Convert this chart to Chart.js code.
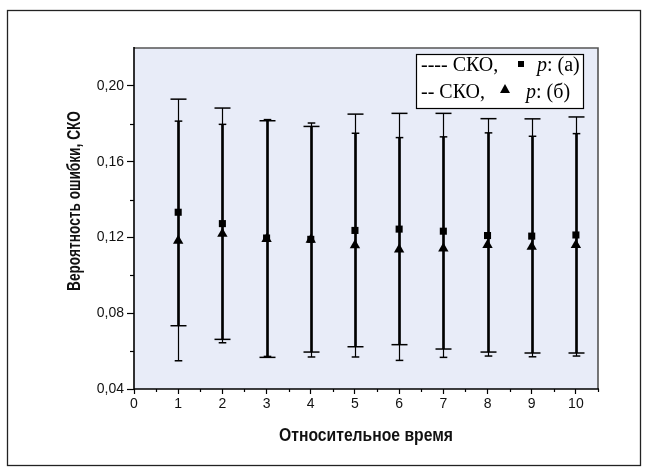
<!DOCTYPE html>
<html>
<head>
<meta charset="utf-8">
<script src="https://cdn.jsdelivr.net/npm/chart.js@4/dist/chart.umd.min.js"></script>
<style>
  html, body { margin: 0; padding: 0; background: #fff; }
  #wrap { width: 648px; height: 472px; }
</style>
</head>
<body>
<div id="wrap"><canvas id="c" width="648" height="472"></canvas></div>
<script>
// values
const times = [1, 2, 3, 4, 5, 6, 7, 8, 9, 10];
const pA    = [0.1333, 0.1273, 0.1197, 0.1190, 0.1237, 0.1244, 0.1233, 0.1210, 0.1207, 0.1213];
const lowA  = [0.0734, 0.0662, 0.0567, 0.0595, 0.0623, 0.0634, 0.0611, 0.0595, 0.0590, 0.0590];
const highA = [0.1930, 0.1883, 0.1816, 0.1786, 0.1851, 0.1855, 0.1855, 0.1827, 0.1826, 0.1836];
const pB    = [0.1182, 0.1220, 0.1192, 0.1188, 0.1159, 0.1137, 0.1142, 0.1160, 0.1151, 0.1160];
const lowB  = [0.0549, 0.0644, 0.0572, 0.0569, 0.0569, 0.0551, 0.0567, 0.0574, 0.0570, 0.0574];
const highB = [0.1814, 0.1797, 0.1822, 0.1804, 0.1750, 0.1727, 0.1731, 0.1752, 0.1734, 0.1748];

const xTicks = [0, 1, 2, 3, 4, 5, 6, 7, 8, 9, 10];
const xTickLabels = ['0', '1', '2', '3', '4', '5', '6', '7', '8', '9', '10'];
const xMinor = [0.5, 1.5, 2.5, 3.5, 4.5, 5.5, 6.5, 7.5, 8.5, 9.5, 10.5];
const yTicks = [0.04, 0.08, 0.12, 0.16, 0.20];
const yTickLabels = ['0,04', '0,08', '0,12', '0,16', '0,20'];
const yMinor = [0.06, 0.10, 0.14, 0.18];

const xTitle = 'Относительное время';
const yTitle = 'Вероятность ошибки, СКО';

const sansBold = '"Liberation Sans Narrow", "Liberation Sans", Arial, sans-serif';
const serif = '"Liberation Serif", "Times New Roman", serif';

function fitText(ctx, text, x, y, width, rot) {
  ctx.save();
  ctx.translate(x, y);
  ctx.rotate(rot);
  const w = ctx.measureText(text).width;
  ctx.scale(width / w, 1);
  ctx.fillText(text, 0, 0);
  ctx.restore();
}

const decor = {
  id: 'decor',
  beforeDraw(chart) {
    const { ctx, chartArea: a } = chart;
    ctx.save();
    ctx.fillStyle = '#e8ecf8';
    ctx.fillRect(a.left, a.top, a.right - a.left, a.bottom - a.top);
    ctx.strokeStyle = '#222';
    ctx.lineWidth = 1.3;
    ctx.strokeRect(7.5, 10.5, 633, 455);
    ctx.restore();
  },
  beforeDatasetsDraw(chart) {
    const { ctx, scales: { x, y } } = chart;
    ctx.save();
    ctx.strokeStyle = '#000';
    times.forEach((t, i) => {
      const px = Math.round(x.getPixelForValue(t)) + 0.5;
      const bars = [[lowA[i], highA[i], 8], [lowB[i], highB[i], 3.8]];
      ctx.lineWidth = 1.2;
      bars.forEach(([lo, hi]) => {
        ctx.beginPath();
        ctx.moveTo(px, y.getPixelForValue(lo));
        ctx.lineTo(px, y.getPixelForValue(hi));
        ctx.stroke();
      });
      // overlapping part of both bars looks heavier
      const oLo = Math.max(lowA[i], lowB[i]);
      const oHi = Math.min(highA[i], highB[i]);
      ctx.lineWidth = 2.6;
      ctx.beginPath();
      ctx.moveTo(px, y.getPixelForValue(oLo));
      ctx.lineTo(px, y.getPixelForValue(oHi));
      ctx.stroke();
      ctx.lineWidth = 1.5;
      bars.forEach(([lo, hi, cap]) => {
        [lo, hi].forEach(v => {
          const py = y.getPixelForValue(v);
          ctx.beginPath();
          ctx.moveTo(px - cap, py);
          ctx.lineTo(px + cap, py);
          ctx.stroke();
        });
      });
    });
    ctx.restore();
  },
  afterDraw(chart) {
    const { ctx, chartArea: a, scales: { x, y } } = chart;
    ctx.save();
    // frame
    ctx.lineWidth = 1.6;
    ctx.strokeStyle = '#555';
    ctx.beginPath();
    ctx.moveTo(a.left, a.top);
    ctx.lineTo(a.right, a.top);
    ctx.lineTo(a.right, a.bottom);
    ctx.stroke();
    ctx.strokeStyle = '#000';
    ctx.beginPath();
    ctx.moveTo(a.left, a.top - 1);
    ctx.lineTo(a.left, a.bottom);
    ctx.lineTo(a.right + 1, a.bottom);
    ctx.stroke();
    // minor ticks
    ctx.lineWidth = 1.2;
    xMinor.forEach(v => {
      const px = Math.round(x.getPixelForValue(v)) + 0.5;
      ctx.beginPath();
      ctx.moveTo(px, a.bottom);
      ctx.lineTo(px, a.bottom + 3);
      ctx.stroke();
    });
    yMinor.forEach(v => {
      const py = Math.round(y.getPixelForValue(v)) + 0.5;
      ctx.beginPath();
      ctx.moveTo(a.left, py);
      ctx.lineTo(a.left - 4, py);
      ctx.stroke();
    });
    // axis titles
    ctx.fillStyle = '#111';
    ctx.textAlign = 'center';
    ctx.textBaseline = 'middle';
    ctx.font = 'bold 19px ' + sansBold;
    fitText(ctx, xTitle, (a.left + a.right) / 2, 436, 174, 0);
    ctx.font = 'bold 18px ' + sansBold;
    fitText(ctx, yTitle, 75, 201, 180, -Math.PI / 2);
    // legend box
    const lx = 416, ly = 54, lw = 167, lh = 54;
    ctx.fillStyle = '#fff';
    ctx.fillRect(lx, ly, lw, lh);
    ctx.strokeStyle = '#000';
    ctx.lineWidth = 1.2;
    ctx.strokeRect(lx + 0.5, ly + 0.5, lw, lh);
    ctx.fillStyle = '#000';
    ctx.textAlign = 'left';
    ctx.textBaseline = 'alphabetic';
    ctx.font = '20px ' + serif;
    ctx.fillText('---- СКО,', 421, 71);
    ctx.fillText('-- СКО,', 421, 98);
    ctx.fillRect(518, 61, 6, 6);
    ctx.beginPath();
    ctx.moveTo(505, 84);
    ctx.lineTo(510, 93);
    ctx.lineTo(500, 93);
    ctx.closePath();
    ctx.fill();
    [['(а)', 537, 71], ['(б)', 526, 98]].forEach(([tail, px, py]) => {
      ctx.font = 'italic 20px ' + serif;
      ctx.fillText('p', px, py);
      const w = ctx.measureText('p').width;
      ctx.font = '20px ' + serif;
      ctx.fillText(': ' + tail, px + w, py);
    });
    ctx.restore();
  }
};

new Chart(document.getElementById('c').getContext('2d'), {
  type: 'scatter',
  data: {
    datasets: [
      {
        label: 'p: (а)',
        data: times.map((t, i) => ({ x: t, y: pA[i] })),
        pointStyle: 'rect',
        pointRadius: 5,
        backgroundColor: '#000',
        borderColor: '#000',
        borderWidth: 0
      },
      {
        label: 'p: (б)',
        data: times.map((t, i) => ({ x: t, y: pB[i] })),
        pointStyle: 'triangle',
        pointRadius: 6,
        backgroundColor: '#000',
        borderColor: '#000',
        borderWidth: 0
      }
    ]
  },
  options: {
    responsive: false,
    animation: false,
    devicePixelRatio: 1,
    layout: { padding: { left: 0, top: 48, right: 50, bottom: 0 } },
    plugins: { legend: { display: false }, tooltip: { enabled: false } },
    scales: {
      x: {
        type: 'linear',
        min: 0,
        max: 10.5,
        afterBuildTicks: s => { s.ticks = xTicks.map(v => ({ value: v })); },
        afterFit: s => { s.height = 83; },
        ticks: {
          callback: (v, i) => xTickLabels[i],
          color: '#111',
          font: { size: 14, family: 'Liberation Sans' },
          padding: 2,
          maxRotation: 0,
          autoSkip: false
        },
        grid: { drawOnChartArea: false, tickLength: 5, tickColor: '#000', tickWidth: 1.2 },
        border: { display: false }
      },
      y: {
        min: 0.04,
        max: 0.22,
        afterBuildTicks: s => { s.ticks = yTicks.map(v => ({ value: v })); },
        afterFit: s => { s.width = 134; },
        ticks: {
          callback: (v, i) => yTickLabels[i],
          color: '#111',
          font: { size: 14, family: 'Liberation Sans' },
          padding: 3,
          autoSkip: false
        },
        grid: { drawOnChartArea: false, tickLength: 7, tickColor: '#000', tickWidth: 1.2 },
        border: { display: false }
      }
    }
  },
  plugins: [decor]
});
</script>
</body>
</html>
